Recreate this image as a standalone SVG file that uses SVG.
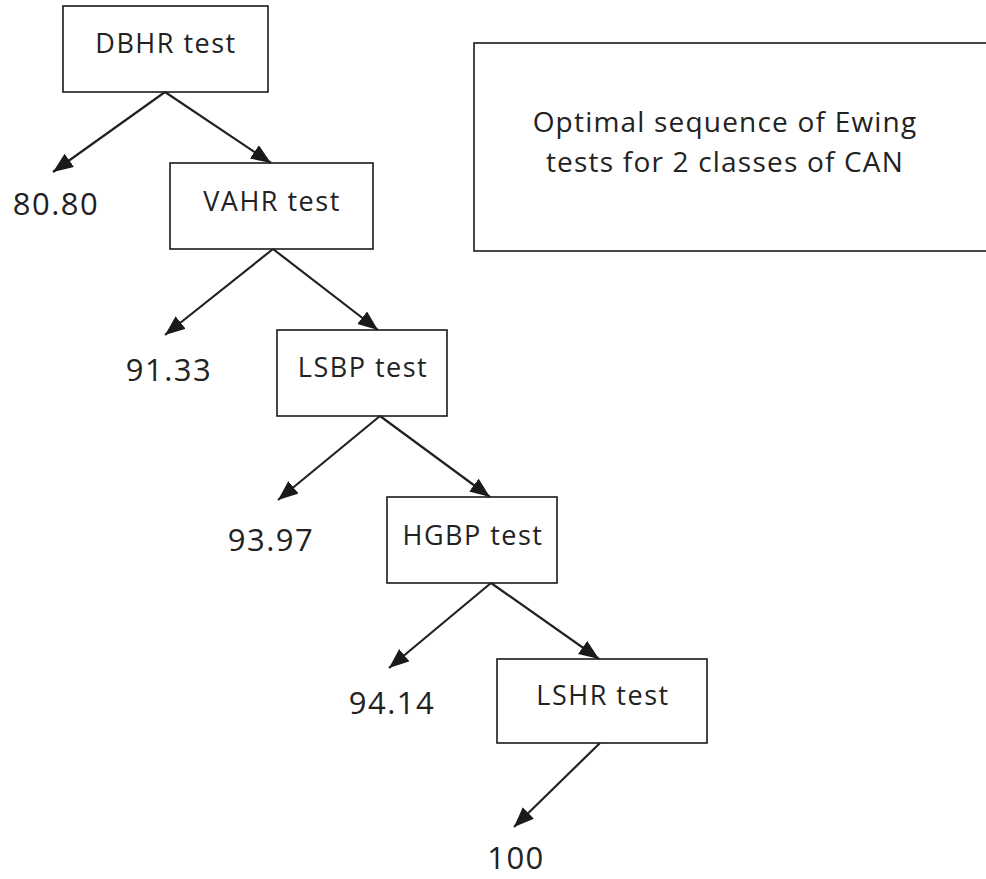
<svg xmlns="http://www.w3.org/2000/svg" width="986" height="879" viewBox="0 0 986 879">
<style>
.box{fill:#fff;stroke:#1a1a1a;stroke-width:1.6}
.t{font-family:"Open Sans","Noto Sans",sans-serif;font-size:27px;letter-spacing:1.5px;fill:#222;text-anchor:middle}
.h{font-family:"Open Sans","Noto Sans",sans-serif;font-size:28px;letter-spacing:1.2px;fill:#222;text-anchor:middle}
.n{font-family:"Open Sans","Noto Sans",sans-serif;font-size:31px;letter-spacing:1.5px;fill:#222;text-anchor:middle}
.c{stroke:#222;stroke-width:2.2;fill:none;marker-end:url(#ah)}
</style>
<defs>
<marker id="ah" markerUnits="userSpaceOnUse" markerWidth="22" markerHeight="18" refX="20" refY="8" orient="auto">
<path d="M0,0 L20,8 L0,16 Z" fill="#1a1a1a"/>
</marker>
</defs>
<g id="title">
<rect class="box" x="474" y="43" width="520" height="208"/>
<text class="h" x="725" y="132">Optimal sequence of Ewing</text>
<text class="h" x="725" y="172">tests for 2 classes of CAN</text>
</g>
<g id="dbhr"><rect class="box" x="63" y="6" width="205" height="86"/><text class="t" x="166" y="53">DBHR test</text></g>
<g id="vahr"><rect class="box" x="170" y="163" width="203" height="86"/><text class="t" x="272" y="211">VAHR test</text></g>
<g id="lsbp"><rect class="box" x="277" y="330" width="170" height="86"/><text class="t" x="363" y="377">LSBP test</text></g>
<g id="hgbp"><rect class="box" x="387" y="497" width="170" height="86"/><text class="t" x="473" y="545">HGBP test</text></g>
<g id="lshr"><rect class="box" x="497" y="659" width="210" height="84"/><text class="t" x="603" y="705">LSHR test</text></g>
<g id="v1"><text class="n" x="56" y="215">80.80</text></g>
<g id="v2"><text class="n" x="169" y="381">91.33</text></g>
<g id="v3"><text class="n" x="271" y="551">93.97</text></g>
<g id="v4"><text class="n" x="392" y="714">94.14</text></g>
<g id="v5"><text class="n" x="516" y="869">100</text></g>
<g id="connectors">
<line class="c" x1="165" y1="92" x2="53" y2="172"/>
<line class="c" x1="165" y1="92" x2="271" y2="163"/>
<line class="c" x1="273" y1="249" x2="165" y2="335"/>
<line class="c" x1="273" y1="249" x2="378" y2="330"/>
<line class="c" x1="380" y1="416" x2="278" y2="500"/>
<line class="c" x1="380" y1="416" x2="490" y2="497"/>
<line class="c" x1="491" y1="583" x2="389" y2="668"/>
<line class="c" x1="491" y1="583" x2="599" y2="659"/>
<line class="c" x1="600" y1="743" x2="514" y2="827"/>
</g>
</svg>
